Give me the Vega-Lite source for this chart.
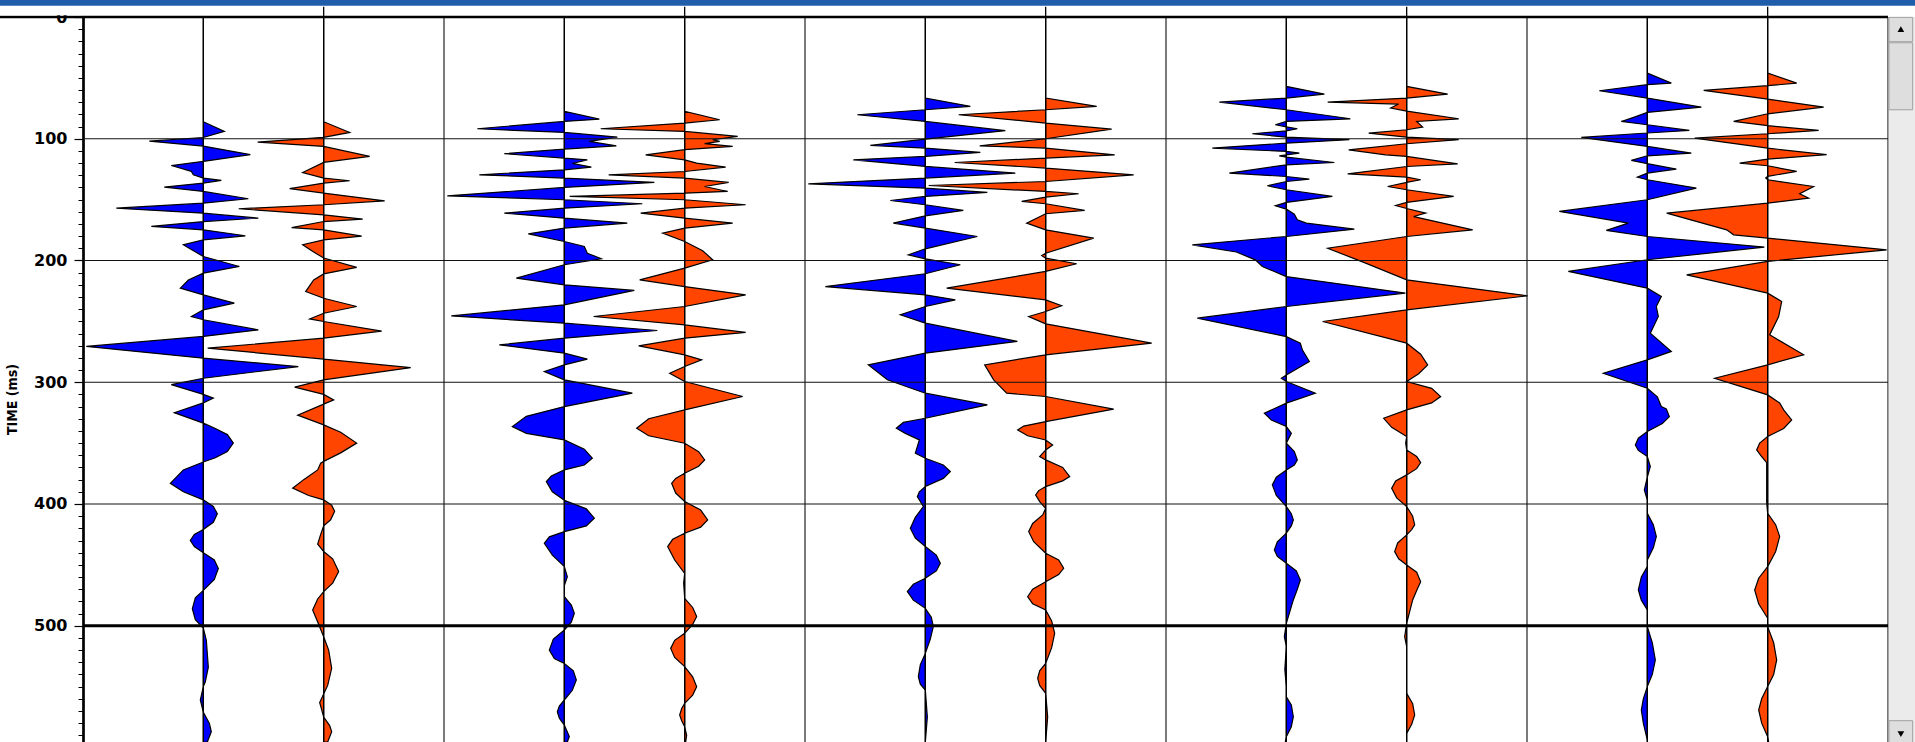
{
"$schema":"https://vega.github.io/schema/vega-lite/v6.json",
"width":1805,"height":725,
"autosize":{"type":"none"},
"padding":{"left":83,"top":17,"right":27,"bottom":0},
"background":"white",
"config":{"view":{"stroke":null}},
"datasets":{
"b1":[{"t":0,"a":0},{"t":86,"a":0},{"t":94,"a":21},{"t":99,"a":0},{"t":102,"a":-54},{"t":106,"a":0},{"t":113,"a":47},{"t":118.6,"a":0},{"t":122,"a":-32},{"t":126.8,"a":-12},{"t":129.6,"a":-10},{"t":132.3,"a":0},{"t":134.2,"a":18},{"t":136.4,"a":0},{"t":139.7,"a":-39},{"t":143.3,"a":0},{"t":149.3,"a":45},{"t":152.9,"a":0},{"t":157,"a":-87},{"t":161.1,"a":0},{"t":165.2,"a":55},{"t":168,"a":0},{"t":172,"a":-52},{"t":174.8,"a":0},{"t":179.7,"a":42},{"t":183,"a":0},{"t":187.1,"a":-20},{"t":191,"a":-12},{"t":196.7,"a":0},{"t":204.9,"a":36},{"t":210.4,"a":0},{"t":216,"a":-15},{"t":222.7,"a":-23},{"t":228.2,"a":0},{"t":235,"a":31},{"t":240.5,"a":0},{"t":246,"a":-12},{"t":248.7,"a":0},{"t":257,"a":55},{"t":262.4,"a":0},{"t":270.6,"a":-117},{"t":280.2,"a":0},{"t":287.1,"a":95},{"t":296.7,"a":0},{"t":302,"a":-32},{"t":310,"a":0},{"t":313,"a":10},{"t":317,"a":0},{"t":325,"a":-29},{"t":333.6,"a":0},{"t":338,"a":12},{"t":343,"a":24},{"t":350,"a":30},{"t":357,"a":24},{"t":362,"a":12},{"t":365.5,"a":0},{"t":372,"a":-20},{"t":383,"a":-33},{"t":390,"a":-20},{"t":396.6,"a":0},{"t":402,"a":10},{"t":408,"a":14},{"t":415,"a":10},{"t":421,"a":0},{"t":425,"a":-9},{"t":430,"a":-13},{"t":435,"a":-9},{"t":440,"a":0},{"t":446,"a":11},{"t":453,"a":15},{"t":462,"a":11},{"t":471,"a":0},{"t":477,"a":-8},{"t":486,"a":-11},{"t":495,"a":-8},{"t":502,"a":0},{"t":512,"a":3},{"t":534,"a":5},{"t":546,"a":2},{"t":550,"a":0},{"t":561,"a":-3},{"t":571,"a":0},{"t":580,"a":6},{"t":587,"a":8},{"t":595.5,"a":4}],
"r1":[{"t":0,"a":0},{"t":86,"a":0},{"t":94.8,"a":26},{"t":98.8,"a":0},{"t":102.7,"a":-66},{"t":106.3,"a":0},{"t":114.5,"a":46},{"t":119.4,"a":0},{"t":127.7,"a":-21},{"t":132.3,"a":0},{"t":134.5,"a":26},{"t":136.4,"a":0},{"t":141,"a":-34},{"t":144.6,"a":0},{"t":151,"a":61},{"t":154.2,"a":0},{"t":157.5,"a":-85},{"t":162.5,"a":0},{"t":166,"a":39},{"t":168,"a":0},{"t":173,"a":-32},{"t":174.8,"a":0},{"t":180,"a":38},{"t":183,"a":0},{"t":187,"a":-21},{"t":192,"a":-12},{"t":198,"a":0},{"t":205.7,"a":33},{"t":211,"a":0},{"t":216,"a":-10},{"t":225.5,"a":-18},{"t":231,"a":0},{"t":237.8,"a":33},{"t":243.3,"a":0},{"t":248,"a":-14},{"t":250.1,"a":0},{"t":258,"a":58},{"t":263.8,"a":0},{"t":272,"a":-116},{"t":281,"a":0},{"t":288,"a":87},{"t":298,"a":0},{"t":304,"a":-29},{"t":310,"a":0},{"t":314.5,"a":10},{"t":318,"a":0},{"t":327,"a":-26},{"t":335,"a":0},{"t":341,"a":17},{"t":350,"a":33},{"t":358,"a":17},{"t":365,"a":0},{"t":366.5,"a":-3},{"t":372,"a":-6},{"t":380,"a":-20},{"t":387,"a":-31},{"t":393,"a":-15},{"t":396.6,"a":0},{"t":401,"a":8},{"t":406,"a":11},{"t":413,"a":7},{"t":418,"a":0},{"t":425,"a":-3},{"t":433,"a":-6},{"t":439,"a":0},{"t":445,"a":9},{"t":455.5,"a":15},{"t":465,"a":9},{"t":472,"a":0},{"t":478,"a":-6},{"t":487,"a":-11},{"t":497,"a":-6},{"t":509,"a":0},{"t":520,"a":5},{"t":535,"a":8},{"t":549,"a":4},{"t":556,"a":0},{"t":563,"a":-4},{"t":575,"a":0},{"t":582,"a":6},{"t":587,"a":8},{"t":595.5,"a":4}],
"b2":[{"t":0,"a":0},{"t":77.5,"a":0},{"t":83.9,"a":35},{"t":85.8,"a":0},{"t":91.8,"a":-87},{"t":94.8,"a":0},{"t":98.6,"a":53},{"t":102.2,"a":25},{"t":105.8,"a":52},{"t":108.5,"a":0},{"t":112.3,"a":-60},{"t":115.9,"a":0},{"t":117.3,"a":23},{"t":120.3,"a":8},{"t":123.3,"a":27},{"t":125.5,"a":0},{"t":129.6,"a":-85},{"t":132.3,"a":0},{"t":135.9,"a":90},{"t":140,"a":0},{"t":146.9,"a":-117},{"t":150.1,"a":0},{"t":153.4,"a":78},{"t":157,"a":0},{"t":161.1,"a":-60},{"t":165.2,"a":0},{"t":169.3,"a":63},{"t":173.4,"a":0},{"t":178.1,"a":-36},{"t":184.4,"a":0},{"t":188.5,"a":20},{"t":194,"a":23},{"t":198.6,"a":37},{"t":203.5,"a":0},{"t":214.5,"a":-48},{"t":220,"a":0},{"t":224.6,"a":70},{"t":236.4,"a":0},{"t":245.5,"a":-113},{"t":251.5,"a":0},{"t":257.5,"a":93},{"t":263.8,"a":0},{"t":269.3,"a":-65},{"t":276.1,"a":0},{"t":281,"a":23},{"t":285.7,"a":0},{"t":291.2,"a":-20},{"t":298,"a":0},{"t":309,"a":68},{"t":320,"a":0},{"t":328,"a":-38},{"t":336.4,"a":-52},{"t":342,"a":-38},{"t":347.4,"a":0},{"t":355,"a":20},{"t":362.4,"a":28},{"t":368,"a":20},{"t":372,"a":0},{"t":377,"a":-13},{"t":381.6,"a":-18},{"t":390,"a":-12},{"t":397,"a":0},{"t":404,"a":22},{"t":411.7,"a":30},{"t":418,"a":22},{"t":422.7,"a":0},{"t":427,"a":-15},{"t":432.3,"a":-20},{"t":442,"a":-12},{"t":451.4,"a":0},{"t":459.7,"a":3},{"t":467,"a":0},{"t":476,"a":0},{"t":483,"a":7},{"t":489.8,"a":10},{"t":497,"a":7},{"t":503.5,"a":0},{"t":511,"a":-11},{"t":520,"a":-15},{"t":527,"a":-10},{"t":531,"a":0},{"t":537,"a":9},{"t":544.6,"a":12},{"t":553,"a":8},{"t":561,"a":0},{"t":566,"a":-5},{"t":570.6,"a":-7},{"t":576,"a":-5},{"t":581.6,"a":0},{"t":591,"a":5},{"t":595.5,"a":3}],
"r2":[{"t":0,"a":0},{"t":77.5,"a":0},{"t":84.4,"a":35},{"t":87.1,"a":0},{"t":91.8,"a":-84},{"t":94,"a":0},{"t":98.1,"a":53},{"t":100.8,"a":28},{"t":102.2,"a":35},{"t":104,"a":20},{"t":106.3,"a":48},{"t":109,"a":0},{"t":113.2,"a":-39},{"t":117.3,"a":0},{"t":120,"a":12},{"t":123.3,"a":41},{"t":126.9,"a":0},{"t":129.6,"a":-76},{"t":132.3,"a":0},{"t":135.9,"a":44},{"t":139.2,"a":20},{"t":143.3,"a":43},{"t":144.7,"a":0},{"t":147.4,"a":-115},{"t":150.1,"a":0},{"t":154.2,"a":61},{"t":157,"a":0},{"t":161.1,"a":-44},{"t":165.2,"a":0},{"t":169.3,"a":48},{"t":173.4,"a":0},{"t":177.5,"a":-22},{"t":184.4,"a":0},{"t":192,"a":18},{"t":199.4,"a":28},{"t":206.3,"a":0},{"t":215.9,"a":-45},{"t":221.4,"a":0},{"t":228.2,"a":61},{"t":237.8,"a":0},{"t":246,"a":-91},{"t":252.9,"a":0},{"t":259.1,"a":61},{"t":263.8,"a":0},{"t":270.1,"a":-46},{"t":277.5,"a":0},{"t":281.6,"a":17},{"t":287.1,"a":0},{"t":292.6,"a":-15},{"t":299.4,"a":0},{"t":311.7,"a":58},{"t":322.7,"a":0},{"t":330,"a":-36},{"t":337.8,"a":-48},{"t":344,"a":-36},{"t":350.1,"a":0},{"t":357,"a":14},{"t":363.8,"a":20},{"t":369,"a":14},{"t":374.8,"a":0},{"t":379,"a":-9},{"t":383,"a":-13},{"t":391,"a":-9},{"t":398,"a":0},{"t":405,"a":16},{"t":413.1,"a":23},{"t":419,"a":16},{"t":424,"a":0},{"t":429,"a":-12},{"t":435,"a":-17},{"t":446,"a":-10},{"t":457,"a":0},{"t":465,"a":-1},{"t":477.5,"a":0},{"t":485,"a":8},{"t":492.5,"a":12},{"t":499,"a":8},{"t":506.2,"a":0},{"t":512,"a":-10},{"t":518.6,"a":-14},{"t":526,"a":-10},{"t":533.6,"a":0},{"t":542,"a":8},{"t":550.1,"a":12},{"t":557,"a":8},{"t":563.8,"a":0},{"t":568,"a":-3},{"t":573.3,"a":-5},{"t":578,"a":-3},{"t":582.9,"a":0},{"t":590,"a":2},{"t":595.5,"a":1}],
"b3":[{"t":0,"a":0},{"t":66.6,"a":0},{"t":73.4,"a":45},{"t":76.2,"a":0},{"t":80.3,"a":-68},{"t":85.8,"a":0},{"t":93.4,"a":80},{"t":100.3,"a":0},{"t":105.5,"a":-55},{"t":107.7,"a":0},{"t":111.2,"a":55},{"t":114.5,"a":0},{"t":117.3,"a":-72},{"t":122.7,"a":0},{"t":128.2,"a":90},{"t":132.3,"a":0},{"t":137,"a":-117},{"t":140.6,"a":0},{"t":144.1,"a":62},{"t":147.4,"a":0},{"t":150.7,"a":-35},{"t":154.2,"a":0},{"t":158.9,"a":38},{"t":163.3,"a":0},{"t":169.3,"a":-32},{"t":173.4,"a":0},{"t":180.3,"a":52},{"t":190.4,"a":0},{"t":195.3,"a":-17},{"t":198.6,"a":0},{"t":203.5,"a":35},{"t":210.9,"a":0},{"t":221.4,"a":-100},{"t":228.2,"a":0},{"t":232.3,"a":30},{"t":237.8,"a":0},{"t":244.6,"a":-25},{"t":251.5,"a":0},{"t":266.5,"a":92},{"t":276.1,"a":0},{"t":285.7,"a":-57},{"t":298,"a":-38},{"t":309,"a":0},{"t":318.6,"a":62},{"t":329.6,"a":0},{"t":333,"a":-22},{"t":337.8,"a":-29},{"t":342,"a":-20},{"t":347.4,"a":-6},{"t":358.3,"a":-10},{"t":362.4,"a":0},{"t":368,"a":18},{"t":373.4,"a":25},{"t":379,"a":18},{"t":385.7,"a":0},{"t":390,"a":-6},{"t":394,"a":-8},{"t":398,"a":-5},{"t":402.1,"a":-2},{"t":411,"a":-10},{"t":420,"a":-15},{"t":428,"a":-10},{"t":435,"a":0},{"t":442,"a":11},{"t":448.7,"a":15},{"t":455,"a":11},{"t":461,"a":0},{"t":466,"a":-12},{"t":472,"a":-18},{"t":479,"a":-12},{"t":485.7,"a":0},{"t":493,"a":6},{"t":500.7,"a":8},{"t":511,"a":5},{"t":522.7,"a":0},{"t":532,"a":-5},{"t":541.8,"a":-7},{"t":548,"a":-5},{"t":552.8,"a":0},{"t":575,"a":2},{"t":595.5,"a":0}],
"r3":[{"t":0,"a":0},{"t":66.6,"a":0},{"t":73.4,"a":51},{"t":76.2,"a":0},{"t":80.3,"a":-87},{"t":87.1,"a":0},{"t":92.1,"a":66},{"t":100,"a":0},{"t":105.8,"a":-66},{"t":107.7,"a":0},{"t":113.2,"a":69},{"t":115.9,"a":0},{"t":119.5,"a":-91},{"t":124.1,"a":0},{"t":129.6,"a":88},{"t":135.1,"a":0},{"t":138.4,"a":-117},{"t":143.3,"a":0},{"t":145.2,"a":33},{"t":147.9,"a":0},{"t":151.5,"a":-24},{"t":153.4,"a":0},{"t":158.9,"a":39},{"t":161.6,"a":0},{"t":169.3,"a":-19},{"t":174.8,"a":0},{"t":181.6,"a":48},{"t":194,"a":0},{"t":195.9,"a":-4},{"t":198.1,"a":0},{"t":202.7,"a":31},{"t":209,"a":0},{"t":222.7,"a":-99},{"t":232.3,"a":0},{"t":237.2,"a":16},{"t":241.9,"a":0},{"t":246,"a":-17},{"t":252,"a":0},{"t":267.9,"a":106},{"t":277.5,"a":0},{"t":285.7,"a":-61},{"t":298,"a":-52},{"t":309,"a":-39},{"t":311.7,"a":0},{"t":322.1,"a":68},{"t":332.3,"a":0},{"t":336,"a":-22},{"t":339.2,"a":-28},{"t":344,"a":-18},{"t":347.4,"a":0},{"t":351.5,"a":7},{"t":355.6,"a":0},{"t":361,"a":-6},{"t":363.8,"a":0},{"t":370,"a":17},{"t":377.5,"a":24},{"t":381,"a":17},{"t":385.7,"a":0},{"t":389,"a":-7},{"t":392.6,"a":-10},{"t":398,"a":-6},{"t":403.5,"a":0},{"t":409,"a":-3},{"t":416,"a":-13},{"t":422.7,"a":-17},{"t":431,"a":-12},{"t":440.5,"a":0},{"t":446,"a":13},{"t":452.8,"a":18},{"t":458,"a":13},{"t":463.8,"a":0},{"t":470,"a":-13},{"t":476.1,"a":-18},{"t":482,"a":-13},{"t":487.1,"a":0},{"t":496,"a":6},{"t":506.2,"a":9},{"t":518,"a":6},{"t":530.9,"a":0},{"t":537,"a":-6},{"t":543.2,"a":-8},{"t":549,"a":-6},{"t":555.5,"a":0},{"t":575,"a":2},{"t":595.5,"a":0}],
"b4":[{"t":0,"a":0},{"t":57,"a":0},{"t":63.3,"a":38},{"t":66.6,"a":0},{"t":69.9,"a":-67},{"t":76.2,"a":0},{"t":83.6,"a":64},{"t":85.8,"a":0},{"t":88.5,"a":-11},{"t":90.2,"a":0},{"t":91.8,"a":11},{"t":93.5,"a":0},{"t":95.9,"a":-34},{"t":98.7,"a":0},{"t":100.8,"a":63},{"t":103.6,"a":0},{"t":107.7,"a":-74},{"t":110.4,"a":0},{"t":111.8,"a":13},{"t":113.2,"a":0},{"t":114,"a":-7},{"t":115.1,"a":0},{"t":119.5,"a":48},{"t":121.4,"a":0},{"t":128.2,"a":-57},{"t":131,"a":0},{"t":133.2,"a":23},{"t":135.1,"a":0},{"t":138.6,"a":-19},{"t":141.9,"a":0},{"t":147.4,"a":46},{"t":152.3,"a":0},{"t":155.1,"a":-11},{"t":157.8,"a":0},{"t":162,"a":8},{"t":166.6,"a":11},{"t":169.3,"a":20},{"t":174.3,"a":68},{"t":180.3,"a":0},{"t":187.1,"a":-94},{"t":193,"a":-50},{"t":199.5,"a":-31},{"t":204.9,"a":-24},{"t":213.2,"a":0},{"t":226.8,"a":119},{"t":237.8,"a":0},{"t":247.4,"a":-89},{"t":262.5,"a":0},{"t":267.9,"a":14},{"t":273.4,"a":16},{"t":283,"a":23},{"t":294,"a":0},{"t":296.7,"a":-5},{"t":299.4,"a":0},{"t":309,"a":29},{"t":317.2,"a":0},{"t":325.5,"a":-22},{"t":331,"a":-15},{"t":336.4,"a":0},{"t":341.9,"a":5},{"t":350.1,"a":0},{"t":357,"a":8},{"t":363.8,"a":11},{"t":368,"a":8},{"t":372,"a":0},{"t":378,"a":-10},{"t":384.3,"a":-14},{"t":393,"a":-10},{"t":402.1,"a":0},{"t":408,"a":5},{"t":413.1,"a":7},{"t":418,"a":5},{"t":424,"a":0},{"t":431,"a":-9},{"t":437.8,"a":-12},{"t":443,"a":-9},{"t":448.7,"a":0},{"t":455,"a":10},{"t":462.4,"a":14},{"t":470,"a":11},{"t":478.8,"a":7},{"t":498,"a":0},{"t":509,"a":-2},{"t":517,"a":0},{"t":536,"a":-1.5},{"t":550,"a":0},{"t":558.3,"a":0},{"t":565,"a":5},{"t":574.7,"a":7},{"t":583,"a":5},{"t":591.1,"a":0},{"t":595.5,"a":-1}],
"r4":[{"t":0,"a":0},{"t":57,"a":0},{"t":63.3,"a":41},{"t":66.6,"a":0},{"t":69.9,"a":-79},{"t":71.5,"a":-8},{"t":74.8,"a":-16},{"t":77.3,"a":0},{"t":83.6,"a":52},{"t":85.8,"a":10},{"t":90.4,"a":16},{"t":92.6,"a":0},{"t":95.4,"a":-38},{"t":98.7,"a":0},{"t":100.8,"a":52},{"t":104.1,"a":0},{"t":109.1,"a":-58},{"t":113.2,"a":-21},{"t":114.5,"a":0},{"t":120.6,"a":51},{"t":122.8,"a":0},{"t":128.8,"a":-59},{"t":131.5,"a":0},{"t":133.7,"a":14},{"t":135.9,"a":0},{"t":139.2,"a":-19},{"t":141.9,"a":0},{"t":147.4,"a":47},{"t":152.3,"a":0},{"t":154.8,"a":-11},{"t":157.3,"a":0},{"t":161.1,"a":19},{"t":163.9,"a":7},{"t":174.8,"a":66},{"t":180.3,"a":0},{"t":189.9,"a":-79},{"t":202.2,"a":-41},{"t":215.9,"a":0},{"t":229,"a":121},{"t":240.5,"a":0},{"t":250.1,"a":-84},{"t":267.9,"a":0},{"t":277,"a":14},{"t":285.7,"a":21},{"t":293,"a":12},{"t":299.4,"a":0},{"t":305,"a":25},{"t":311.8,"a":34},{"t":317,"a":25},{"t":322.7,"a":0},{"t":329.6,"a":-23},{"t":337,"a":-15},{"t":344.6,"a":0},{"t":350,"a":-1},{"t":355.6,"a":0},{"t":361,"a":10},{"t":366,"a":14},{"t":371,"a":10},{"t":376.1,"a":0},{"t":381,"a":-11},{"t":387.1,"a":-15},{"t":395,"a":-10},{"t":402.1,"a":0},{"t":410,"a":6},{"t":417.2,"a":8},{"t":421,"a":5},{"t":425.4,"a":0},{"t":432,"a":-9},{"t":439.1,"a":-12},{"t":445,"a":-8},{"t":450.1,"a":0},{"t":456,"a":10},{"t":463.8,"a":14},{"t":471,"a":10},{"t":478.8,"a":6},{"t":498,"a":0},{"t":509,"a":-2},{"t":517.2,"a":0},{"t":555.5,"a":0},{"t":564,"a":6},{"t":573.3,"a":8},{"t":581,"a":5},{"t":588.4,"a":0},{"t":595.5,"a":0}],
"b5":[{"t":0,"a":0},{"t":46,"a":0},{"t":54.3,"a":24},{"t":55.6,"a":0},{"t":60.6,"a":-48},{"t":66.6,"a":0},{"t":74,"a":54},{"t":78.4,"a":0},{"t":82.2,"a":-13},{"t":85.8,"a":-26},{"t":88.5,"a":0},{"t":93.2,"a":42},{"t":95.3,"a":0},{"t":98.9,"a":-66},{"t":106.3,"a":0},{"t":111.8,"a":44},{"t":114,"a":0},{"t":117.8,"a":-16},{"t":120.5,"a":0},{"t":124.9,"a":29},{"t":128.2,"a":0},{"t":131.5,"a":-10},{"t":133.7,"a":0},{"t":140.5,"a":49},{"t":150.1,"a":0},{"t":159.7,"a":-88},{"t":169.3,"a":-19},{"t":175.3,"a":-41},{"t":180.3,"a":0},{"t":189,"a":117},{"t":199.4,"a":0},{"t":209,"a":-79},{"t":222.7,"a":0},{"t":229.5,"a":14},{"t":237.8,"a":9},{"t":246,"a":11},{"t":259.7,"a":3},{"t":274.7,"a":24},{"t":281.6,"a":0},{"t":292.6,"a":-44},{"t":304.9,"a":0},{"t":312,"a":10},{"t":319.9,"a":14},{"t":322,"a":19},{"t":328.2,"a":22},{"t":334,"a":15},{"t":340.5,"a":0},{"t":346,"a":-9},{"t":351.5,"a":-12},{"t":356,"a":-9},{"t":361,"a":0},{"t":369.3,"a":3},{"t":378,"a":0},{"t":388.5,"a":-3},{"t":396.7,"a":0},{"t":407.6,"a":0},{"t":417,"a":6},{"t":426.8,"a":9},{"t":436,"a":6},{"t":446,"a":0},{"t":451.4,"a":0},{"t":460,"a":-6},{"t":470.6,"a":-9},{"t":479,"a":-6},{"t":487,"a":0},{"t":500.8,"a":0},{"t":514,"a":5},{"t":528.1,"a":8},{"t":540,"a":5},{"t":550,"a":0},{"t":560,"a":-4},{"t":569.2,"a":-6},{"t":580,"a":-4},{"t":593.9,"a":0},{"t":595.5,"a":0}],
"r5":[{"t":0,"a":0},{"t":46,"a":0},{"t":54.3,"a":29},{"t":56.4,"a":0},{"t":60.3,"a":-64},{"t":67.4,"a":0},{"t":74,"a":56},{"t":79.5,"a":0},{"t":85.8,"a":-34},{"t":89.3,"a":0},{"t":93.2,"a":51},{"t":95.9,"a":0},{"t":99.5,"a":-73},{"t":107.7,"a":0},{"t":113.1,"a":59},{"t":116.7,"a":0},{"t":120,"a":-28},{"t":122.2,"a":0},{"t":126.8,"a":29},{"t":130.9,"a":0},{"t":132.3,"a":-2},{"t":133.7,"a":0},{"t":139.2,"a":46},{"t":145.2,"a":32},{"t":148.8,"a":41},{"t":152.9,"a":0},{"t":161.1,"a":-101},{"t":174.8,"a":-41},{"t":178.9,"a":-34},{"t":181.6,"a":0},{"t":191.2,"a":119},{"t":200.8,"a":0},{"t":211.8,"a":-81},{"t":226.8,"a":0},{"t":233.7,"a":14},{"t":246,"a":11},{"t":261.1,"a":2},{"t":277.5,"a":36},{"t":285.7,"a":0},{"t":296.7,"a":-53},{"t":310.4,"a":0},{"t":317,"a":12},{"t":322.7,"a":16},{"t":331,"a":24},{"t":338,"a":16},{"t":344.6,"a":0},{"t":350,"a":-8},{"t":355.6,"a":-11},{"t":361,"a":-6},{"t":366,"a":-1},{"t":399,"a":-1},{"t":407.6,"a":0},{"t":417,"a":8},{"t":426.8,"a":12},{"t":439,"a":8},{"t":451.4,"a":0},{"t":461,"a":-9},{"t":470.6,"a":-13},{"t":482,"a":-9},{"t":493.9,"a":0},{"t":500.8,"a":0},{"t":514,"a":6},{"t":528.1,"a":9},{"t":540,"a":6},{"t":550,"a":0},{"t":560,"a":-6},{"t":569.2,"a":-9},{"t":580,"a":-6},{"t":591.1,"a":0},{"t":595.5,"a":1}]
},
"layer":[
{"data":{"name":"b1"},"mark":{"type":"area","fill":"#0000FF","opacity":1,"stroke":"black","strokeWidth":1.2},
 "encoding":{"y":{"field":"t","type":"quantitative","scale":{"domain":[0,595.5],"reverse":true,"nice":false,"zero":false},"axis":null},
 "x":{"field":"a","type":"quantitative","scale":{"domain":[-120.33,1684.67],"nice":false,"zero":false},"axis":null},"x2":{"datum":0}}},
{"data":{"name":"r1"},"mark":{"type":"area","fill":"#FF4500","opacity":1,"stroke":"black","strokeWidth":1.2},
 "encoding":{"y":{"field":"t","type":"quantitative","axis":null},
 "x":{"field":"a","type":"quantitative","scale":{"domain":[-240.67,1564.33],"nice":false,"zero":false},"axis":null},"x2":{"datum":0}}},
{"data":{"name":"b2"},"mark":{"type":"area","fill":"#0000FF","opacity":1,"stroke":"black","strokeWidth":1.2},
 "encoding":{"y":{"field":"t","type":"quantitative","axis":null},
 "x":{"field":"a","type":"quantitative","scale":{"domain":[-481.33,1323.67],"nice":false,"zero":false},"axis":null},"x2":{"datum":0}}},
{"data":{"name":"r2"},"mark":{"type":"area","fill":"#FF4500","opacity":1,"stroke":"black","strokeWidth":1.2},
 "encoding":{"y":{"field":"t","type":"quantitative","axis":null},
 "x":{"field":"a","type":"quantitative","scale":{"domain":[-601.67,1203.33],"nice":false,"zero":false},"axis":null},"x2":{"datum":0}}},
{"data":{"name":"b3"},"mark":{"type":"area","fill":"#0000FF","opacity":1,"stroke":"black","strokeWidth":1.2},
 "encoding":{"y":{"field":"t","type":"quantitative","axis":null},
 "x":{"field":"a","type":"quantitative","scale":{"domain":[-842.33,962.67],"nice":false,"zero":false},"axis":null},"x2":{"datum":0}}},
{"data":{"name":"r3"},"mark":{"type":"area","fill":"#FF4500","opacity":1,"stroke":"black","strokeWidth":1.2},
 "encoding":{"y":{"field":"t","type":"quantitative","axis":null},
 "x":{"field":"a","type":"quantitative","scale":{"domain":[-962.67,842.33],"nice":false,"zero":false},"axis":null},"x2":{"datum":0}}},
{"data":{"name":"b4"},"mark":{"type":"area","fill":"#0000FF","opacity":1,"stroke":"black","strokeWidth":1.2},
 "encoding":{"y":{"field":"t","type":"quantitative","axis":null},
 "x":{"field":"a","type":"quantitative","scale":{"domain":[-1203.33,601.67],"nice":false,"zero":false},"axis":null},"x2":{"datum":0}}},
{"data":{"name":"r4"},"mark":{"type":"area","fill":"#FF4500","opacity":1,"stroke":"black","strokeWidth":1.2},
 "encoding":{"y":{"field":"t","type":"quantitative","axis":null},
 "x":{"field":"a","type":"quantitative","scale":{"domain":[-1323.67,481.33],"nice":false,"zero":false},"axis":null},"x2":{"datum":0}}},
{"data":{"name":"b5"},"mark":{"type":"area","fill":"#0000FF","opacity":1,"stroke":"black","strokeWidth":1.2},
 "encoding":{"y":{"field":"t","type":"quantitative","axis":null},
 "x":{"field":"a","type":"quantitative","scale":{"domain":[-1564.33,240.67],"nice":false,"zero":false},"axis":null},"x2":{"datum":0}}},
{"data":{"name":"r5"},"mark":{"type":"area","fill":"#FF4500","opacity":1,"stroke":"black","strokeWidth":1.2},
 "encoding":{"y":{"field":"t","type":"quantitative","axis":null},
 "x":{"field":"a","type":"quantitative","scale":{"domain":[-1684.67,120.33],"nice":false,"zero":false},"axis":null},"x2":{"datum":0}}},
{"data":{"values":[{"v":1,"t0":0},{"v":2,"t0":-8.5},{"v":4,"t0":0},{"v":5,"t0":-8.5},{"v":7,"t0":0},{"v":8,"t0":-8.5},{"v":10,"t0":0},{"v":11,"t0":-8.5},{"v":13,"t0":0},{"v":14,"t0":-8.5}]},
 "mark":{"type":"rule","color":"black","strokeWidth":1.3},
 "encoding":{"x":{"field":"v","type":"quantitative","scale":{"domain":[0,15],"nice":false,"zero":false},"axis":null},
 "y":{"field":"t0","type":"quantitative","axis":null},"y2":{"datum":595.5}}},
{"data":{"values":[{"v":3},{"v":6},{"v":9},{"v":12}]},
 "mark":{"type":"rule","color":"#222222","strokeWidth":1.2},
 "encoding":{"x":{"field":"v","type":"quantitative","scale":{"domain":[0,15],"nice":false,"zero":false},"axis":null},
 "y":{"datum":0,"axis":null},"y2":{"datum":595.5}}},
{"data":{"values":[{"v":15}]},
 "mark":{"type":"rule","color":"#555555","strokeWidth":1.6},
 "encoding":{"x":{"field":"v","type":"quantitative","scale":{"domain":[0,15],"nice":false,"zero":false},"axis":null},
 "y":{"datum":0,"axis":null},"y2":{"datum":595.5}}},
{"data":{"values":[{"t":100},{"t":200},{"t":300},{"t":400}]},
 "mark":{"type":"rule","color":"#111111","strokeWidth":1.2},
 "encoding":{"y":{"field":"t","type":"quantitative","axis":{"orient":"left","values":[0,10,20,30,40,50,60,70,80,90,100,110,120,130,140,150,160,170,180,190,200,210,220,230,240,250,260,270,280,290,300,310,320,330,340,350,360,370,380,390,400,410,420,430,440,450,460,470,480,490,500,510,520,530,540,550,560,570,580,590],"tickSize":5,"tickColor":"black","tickWidth":1,"labels":false,"domain":true,"domainColor":"black","domainWidth":2.7,"title":null,"grid":false}},
 "x":{"datum":0,"scale":{"domain":[0,15],"nice":false,"zero":false},"axis":null},"x2":{"datum":15}}},
{"data":{"values":[{"t":500}]},
 "mark":{"type":"rule","color":"black","strokeWidth":3},
 "encoding":{"y":{"field":"t","type":"quantitative","axis":{"orient":"left","values":[0,100,200,300,400,500],"tickSize":9,"tickWidth":1.2,"tickColor":"black","labelFont":"DejaVu Sans","labelFontWeight":"bold","labelFontSize":16,"labelColor":"black","labelPadding":7,"labelFlush":false,"labelOverlap":false,"domain":false,"grid":false,"title":"TIME (ms)","titleFont":"Liberation Sans Narrow, DejaVu Sans Condensed, Liberation Sans","titleFontWeight":"bold","titleFontSize":14,"titleColor":"black","titleAngle":270,"titleX":-71,"titleY":382,"titleAlign":"center","titleBaseline":"middle"}},
 "x":{"datum":0,"scale":{"domain":[0,15],"nice":false,"zero":false},"axis":null},"x2":{"datum":15}}},
{"data":{"values":[{"t":0}]},
 "mark":{"type":"rule","color":"black","strokeWidth":2.7},
 "encoding":{"y":{"field":"t","type":"quantitative","axis":null},
 "x":{"datum":-0.7,"scale":{"domain":[0,15],"nice":false,"zero":false},"axis":null},"x2":{"datum":15}}},
{"data":{"values":[{"x1":-0.7,"x2":-0.015,"t1":-9.7,"t2":-1.4}]},
 "mark":{"type":"rect","fill":"white"},
 "encoding":{"x":{"field":"x1","type":"quantitative","scale":{"domain":[0,15],"nice":false,"zero":false},"axis":null},"x2":{"field":"x2"},
 "y":{"field":"t1","type":"quantitative","axis":null},"y2":{"field":"t2"}}},
{"data":{"values":[{"x1":15.005,"x2":15.3,"t1":0,"t2":600}]},
 "mark":{"type":"rect","fill":"#ebebeb"},
 "encoding":{"x":{"field":"x1","type":"quantitative","scale":{"domain":[0,15],"nice":false,"zero":false},"axis":null},"x2":{"field":"x2"},
 "y":{"field":"t1","type":"quantitative","axis":null},"y2":{"field":"t2"}}},
{"data":{"values":[{"x1":15.008,"x2":15.205,"t1":0.3,"t2":20.3},{"x1":15.008,"x2":15.205,"t1":21.2,"t2":76.2},{"x1":15.008,"x2":15.205,"t1":578,"t2":600}]},
 "mark":{"type":"rect","fill":"#dedede","stroke":"#a0a0a0","strokeWidth":1},
 "encoding":{"x":{"field":"x1","type":"quantitative","scale":{"domain":[0,15],"nice":false,"zero":false},"axis":null},"x2":{"field":"x2"},
 "y":{"field":"t1","type":"quantitative","axis":null},"y2":{"field":"t2"}}},
{"data":{"values":[{"x":15.107,"t":10}]},
 "mark":{"type":"point","shape":"triangle-up","filled":true,"color":"black","opacity":1,"size":45},
 "encoding":{"x":{"field":"x","type":"quantitative","scale":{"domain":[0,15],"nice":false,"zero":false},"axis":null},
 "y":{"field":"t","type":"quantitative","axis":null}}},
{"data":{"values":[{"x":15.107,"t":589}]},
 "mark":{"type":"point","shape":"triangle-down","filled":true,"color":"black","opacity":1,"size":45},
 "encoding":{"x":{"field":"x","type":"quantitative","scale":{"domain":[0,15],"nice":false,"zero":false},"axis":null},
 "y":{"field":"t","type":"quantitative","axis":null}}},
{"data":{"values":[{"x1":-0.7,"x2":15.3,"t1":-15,"t2":-9.2}]},
 "mark":{"type":"rect","fill":"#1F5DAA"},
 "encoding":{"x":{"field":"x1","type":"quantitative","scale":{"domain":[0,15],"nice":false,"zero":false},"axis":null},"x2":{"field":"x2"},
 "y":{"field":"t1","type":"quantitative","axis":null},"y2":{"field":"t2"}}}
],
"resolve":{"scale":{"x":"independent"},"axis":{"x":"independent","y":"independent"}}
}
